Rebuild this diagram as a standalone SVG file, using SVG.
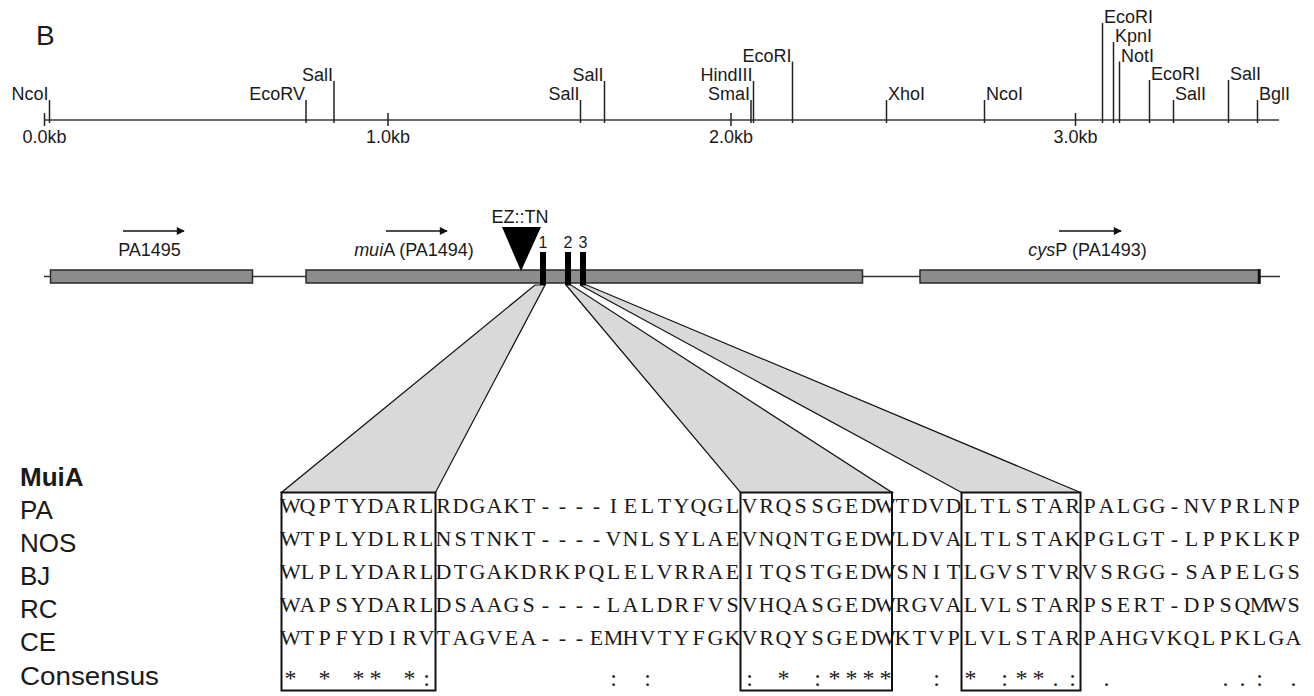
<svg xmlns="http://www.w3.org/2000/svg" width="1314" height="696" viewBox="0 0 1314 696">
<style>
.s{font-family:"Liberation Sans",Arial,sans-serif;fill:#1a1a1a}
.rl{font-size:18px}
.gl{font-size:18px}
.lab{font-size:26px}
.seq{font-family:"Liberation Serif","Times New Roman",serif;font-size:22px;fill:#1a1a1a}
.ax{stroke:#3a3a3a;stroke-width:1.5;fill:none}
.site{stroke:#222;stroke-width:1.5}
.gene{fill:#8c8c8c;stroke:#2a2a2a;stroke-width:1.5}
.fun{fill:#d9d9d9;stroke:#111;stroke-width:1.2;stroke-linejoin:miter}
.abox{fill:none;stroke:#111;stroke-width:2}
.arr{stroke:#111;stroke-width:1.5;fill:none}
</style>
<defs>
<marker id="ah" viewBox="0 0 10 10" refX="9" refY="5" markerWidth="10" markerHeight="8" markerUnits="userSpaceOnUse" orient="auto">
<path d="M0,0 L10,5 L0,10 z" fill="#111"/>
</marker>
</defs>
<rect width="1314" height="696" fill="#fff"/>
<text class="s" x="36" y="45" font-size="28">B</text>

<g id="restriction-map">
<line class="ax" x1="45" y1="120" x2="1279" y2="120"/>
<g class="site">
<line x1="44.5" y1="113" x2="44.5" y2="126"/>
<line x1="388" y1="113" x2="388" y2="126"/>
<line x1="731" y1="113" x2="731" y2="126"/>
<line x1="1075.5" y1="113" x2="1075.5" y2="126"/>
<line x1="49.5" y1="100" x2="49.5" y2="123"/>
<line x1="306" y1="100" x2="306" y2="123"/>
<line x1="334" y1="81" x2="334" y2="123"/>
<line x1="580.5" y1="100" x2="580.5" y2="123"/>
<line x1="604.5" y1="81" x2="604.5" y2="123"/>
<line x1="751" y1="100" x2="751" y2="123"/>
<line x1="753.5" y1="81" x2="753.5" y2="123"/>
<line x1="792.5" y1="61.5" x2="792.5" y2="123"/>
<line x1="886.5" y1="100" x2="886.5" y2="123"/>
<line x1="984.5" y1="100" x2="984.5" y2="123"/>
<line x1="1102.5" y1="23" x2="1102.5" y2="123"/>
<line x1="1113.5" y1="42" x2="1113.5" y2="123"/>
<line x1="1119.5" y1="61.5" x2="1119.5" y2="123"/>
<line x1="1149.5" y1="80" x2="1149.5" y2="123"/>
<line x1="1173.5" y1="100" x2="1173.5" y2="123"/>
<line x1="1228.5" y1="80" x2="1228.5" y2="123"/>
<line x1="1257.5" y1="100" x2="1257.5" y2="123"/>
</g>
<g class="s rl" text-anchor="middle">
<text x="44.5" y="143">0.0kb</text>
<text x="388" y="143">1.0kb</text>
<text x="731" y="143">2.0kb</text>
<text x="1075.5" y="143">3.0kb</text>
</g>
<g class="s rl" text-anchor="end">
<text x="48.5" y="100">NcoI</text>
<text x="305" y="100">EcoRV</text>
<text x="333" y="81">SalI</text>
<text x="579.5" y="100">SalI</text>
<text x="603.5" y="81">SalI</text>
<text x="750" y="100">SmaI</text>
<text x="752.5" y="81">HindIII</text>
<text x="791.5" y="61.5">EcoRI</text>
</g>
<g class="s rl">
<text x="888" y="100">XhoI</text>
<text x="986" y="100">NcoI</text>
<text x="1104" y="23">EcoRI</text>
<text x="1115" y="42">KpnI</text>
<text x="1121" y="61.5">NotI</text>
<text x="1151" y="80">EcoRI</text>
<text x="1175" y="100">SalI</text>
<text x="1230" y="80">SalI</text>
<text x="1259" y="100">BglI</text>
</g>
</g>

<g id="gene-map">
<line x1="44" y1="276.5" x2="1280" y2="276.5" stroke="#333" stroke-width="1.5"/>
<rect class="gene" x="50.5" y="270" width="202" height="13"/>
<rect class="gene" x="306" y="270" width="556.5" height="13"/>
<rect class="gene" x="920" y="270" width="340" height="13"/>
<line x1="1259" y1="269" x2="1259" y2="284" stroke="#111" stroke-width="2.5"/>
</g>

<g id="gene-PA1495">
<line class="arr" x1="123" y1="231" x2="184" y2="231" marker-end="url(#ah)"/>
<text class="s gl" x="149.5" y="256" text-anchor="middle">PA1495</text>
</g>
<g id="gene-muiA">
<line class="arr" x1="386" y1="231" x2="447" y2="231" marker-end="url(#ah)"/>
<text class="s gl" x="414" y="256" text-anchor="middle"><tspan font-style="italic">mui</tspan>A (PA1494)</text>
</g>
<g id="gene-cysP">
<line class="arr" x1="1059" y1="231" x2="1121" y2="231" marker-end="url(#ah)"/>
<text class="s gl" x="1087.5" y="256" text-anchor="middle"><tspan font-style="italic">cys</tspan>P (PA1493)</text>
</g>
<g id="insertion">
<polygon points="502,227 541,227 521,271" fill="#000"/>
<text class="s gl" x="520" y="223" text-anchor="middle">EZ::TN</text>
</g>

<g id="connectors">
<polygon class="fun" points="535,285 545,285 435.5,492.5 281.5,492.5"/>
<polygon class="fun" points="566,285 571,285 892,492.5 740.5,492.5"/>
<polygon class="fun" points="580,285 586.5,285 1080.5,492.5 961.5,492.5"/>
</g>

<g id="motifs">
<rect x="540" y="252" width="6" height="33" fill="#000"/>
<rect x="565" y="252" width="6" height="33" fill="#000"/>
<rect x="580" y="252" width="6" height="33" fill="#000"/>
<g class="s" font-size="16" text-anchor="middle">
<text x="543" y="248">1</text>
<text x="568" y="248">2</text>
<text x="583" y="248">3</text>
</g>
</g>

<g id="alignment-labels" class="s lab">
<text x="20" y="486" font-weight="bold">MuiA</text>
<text x="20" y="519">PA</text>
<text x="20" y="552">NOS</text>
<text x="20" y="585">BJ</text>
<text x="20" y="618">RC</text>
<text x="20" y="651">CE</text>
<text x="20" y="685" textLength="139" lengthAdjust="spacingAndGlyphs">Consensus</text>
</g>

<g id="alignment">
<g class="seq" text-anchor="middle">
<text y="513" x="290.5 307.5 324.5 341.5 358.5 375.5 392.5 409.5 426.5 443.5 460.5 477.5 494.5 511.5 528.5 545.5 562.5 579.5 596.5 613.5 630.5 647.5 664.5 681.5 698.5 715.5 732.5 749.5 766.5 783.5 800.5 817.5 834.5 851.5 868.5 885.5 902.5 919.5 936.5 953.5 970.5 987.5 1004.5 1021.5 1038.5 1055.5 1072.5 1089.5 1106.5 1123.5 1140.5 1157.5 1174.5 1191.5 1208.5 1225.5 1242.5 1259.5 1276.5 1293.5">WQPTYDARLRDGAKT----IELTYQGLVRQSSGEDWTDVDLTLSTARPALGG-NVPRLNP</text>
<text y="546" x="290.5 307.5 324.5 341.5 358.5 375.5 392.5 409.5 426.5 443.5 460.5 477.5 494.5 511.5 528.5 545.5 562.5 579.5 596.5 613.5 630.5 647.5 664.5 681.5 698.5 715.5 732.5 749.5 766.5 783.5 800.5 817.5 834.5 851.5 868.5 885.5 902.5 919.5 936.5 953.5 970.5 987.5 1004.5 1021.5 1038.5 1055.5 1072.5 1089.5 1106.5 1123.5 1140.5 1157.5 1174.5 1191.5 1208.5 1225.5 1242.5 1259.5 1276.5 1293.5">WTPLYDLRLNSTNKT----VNLSYLAEVNQNTGEDWLDVALTLSTAKPGLGT-LPPKLKP</text>
<text y="579" x="290.5 307.5 324.5 341.5 358.5 375.5 392.5 409.5 426.5 443.5 460.5 477.5 494.5 511.5 528.5 545.5 562.5 579.5 596.5 613.5 630.5 647.5 664.5 681.5 698.5 715.5 732.5 749.5 766.5 783.5 800.5 817.5 834.5 851.5 868.5 885.5 902.5 919.5 936.5 953.5 970.5 987.5 1004.5 1021.5 1038.5 1055.5 1072.5 1089.5 1106.5 1123.5 1140.5 1157.5 1174.5 1191.5 1208.5 1225.5 1242.5 1259.5 1276.5 1293.5">WLPLYDARLDTGAKDRKPQLELVRRAEITQSTGEDWSNITLGVSTVRVSRGG-SAPELGS</text>
<text y="612" x="290.5 307.5 324.5 341.5 358.5 375.5 392.5 409.5 426.5 443.5 460.5 477.5 494.5 511.5 528.5 545.5 562.5 579.5 596.5 613.5 630.5 647.5 664.5 681.5 698.5 715.5 732.5 749.5 766.5 783.5 800.5 817.5 834.5 851.5 868.5 885.5 902.5 919.5 936.5 953.5 970.5 987.5 1004.5 1021.5 1038.5 1055.5 1072.5 1089.5 1106.5 1123.5 1140.5 1157.5 1174.5 1191.5 1208.5 1225.5 1242.5 1259.5 1276.5 1293.5">WAPSYDARLDSAAGS----LALDRFVSVHQASGEDWRGVALVLSTARPSERT-DPSQMWS</text>
<text y="645" x="290.5 307.5 324.5 341.5 358.5 375.5 392.5 409.5 426.5 443.5 460.5 477.5 494.5 511.5 528.5 545.5 562.5 579.5 596.5 613.5 630.5 647.5 664.5 681.5 698.5 715.5 732.5 749.5 766.5 783.5 800.5 817.5 834.5 851.5 868.5 885.5 902.5 919.5 936.5 953.5 970.5 987.5 1004.5 1021.5 1038.5 1055.5 1072.5 1089.5 1106.5 1123.5 1140.5 1157.5 1174.5 1191.5 1208.5 1225.5 1242.5 1259.5 1276.5 1293.5">WTPFYDIRVTAGVEA---EMHVTYFGKVRQYSGEDWKTVPLVLSTARPAHGVKQLPKLGA</text>
<text y="686" font-size="24" x="290.5 324.5 358.5 375.5 409.5 426.5 613.5 647.5 749.5 783.5 817.5 834.5 851.5 868.5 885.5 936.5 970.5 1004.5 1021.5 1038.5 1055.5 1072.5 1106.5 1225.5 1242.5 1259.5 1293.5">*****::::*:****:*:**.:...:.</text>
</g>
<rect class="abox" x="281.5" y="492.5" width="154" height="198"/>
<rect class="abox" x="740.5" y="492.5" width="151.5" height="198"/>
<rect class="abox" x="961.5" y="492.5" width="119" height="198"/>
</g>
</svg>
